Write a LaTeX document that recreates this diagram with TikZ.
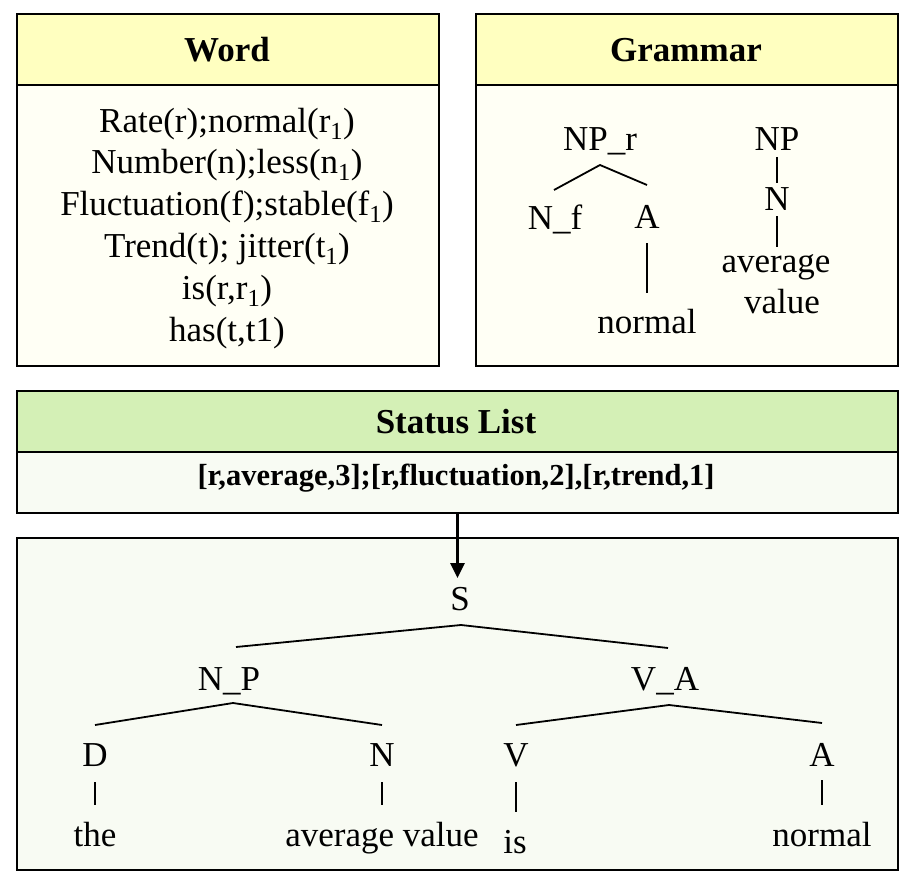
\documentclass[tikz,border=0pt]{standalone}
\usepackage{fontspec}
\setmainfont{Liberation Serif}
\usetikzlibrary{arrows.meta,calc}
\definecolor{hdryellow}{HTML}{FFFFC0}
\definecolor{bodyyellow}{HTML}{FFFFF5}
\definecolor{hdrgreen}{HTML}{D4F0B6}
\definecolor{bodygreen}{HTML}{F8FBF3}
\begin{document}
\begin{tikzpicture}[x=1pt,y=-1pt,
  box/.style={draw=black,line width=2pt,rectangle,inner sep=0pt,anchor=north west},
  txt/.style={anchor=base,inner sep=0pt,font=\fontsize{35}{42}\selectfont},
  btxt/.style={txt,font=\fontsize{35}{42}\selectfont\bfseries},
  stxt/.style={txt,font=\fontsize{30.5}{36}\selectfont\bfseries},
  treeline/.style={line width=1.8pt},
  barline/.style={line width=1.4pt},
  arrowline/.style={line width=3pt,-{Triangle[length=15pt,width=14pt]}}
]
\useasboundingbox (0,0) rectangle (913,880);
\fill[white] (0,0) rectangle (913,880);

% ---- Word box
\node[box,fill=hdryellow,minimum width=422pt,minimum height=71pt] (wordhead) at (16,13) {};
\node[box,fill=bodyyellow,minimum width=422pt,minimum height=281pt] (wordbody) at (16,84) {};
\node[btxt] (wordt) at (227,62) {Word};
\node[txt] (w1) at (227,132) {Rate(r);normal(r\textsubscript{1})};
\node[txt] (w2) at (227,173) {Number(n);less(n\textsubscript{1})};
\node[txt] (w3) at (227,215) {Fluctuation(f);stable(f\textsubscript{1})};
\node[txt] (w4) at (227,257) {Trend(t); jitter(t\textsubscript{1})};
\node[txt] (w5) at (227,299) {is(r,r\textsubscript{1})};
\node[txt] (w6) at (227,341) {has(t,t1)};

% ---- Grammar box
\node[box,fill=hdryellow,minimum width=422pt,minimum height=71pt] (gramhead) at (475,13) {};
\node[box,fill=bodyyellow,minimum width=422pt,minimum height=281pt] (grambody) at (475,84) {};
\node[btxt] (gramt) at (686,62) {Grammar};
\node[txt] (NPr) at (600,150) {NP\_r};
\node[txt] (Nf) at (555,229) {N\_f};
\node[txt] (gA) at (647,228) {A};
\node[txt] (gnormal) at (647,333) {normal};
\node[txt] (gNP) at (777,150) {NP};
\node[txt] (gN) at (777,210) {N};
\node[txt] (gavg) at (776,272) {average};
\node[txt] (gval) at (782,313) {value};
\draw[treeline] ($(Nf.base)+(-1,-39)$) -- ($(NPr.base)+(0,15)$) -- ($(gA.base)+(0,-43)$);
\draw[barline] ($(gA.base)+(0,15)$) -- ($(gA.base)+(0,65)$);
\draw[barline] ($(gNP.base)+(0,7)$) -- ($(gN.base)+(0,-27)$);
\draw[barline] ($(gN.base)+(0,6)$) -- ($(gN.base)+(0,37)$);

% ---- Status list
\node[box,fill=hdrgreen,minimum width=881pt,minimum height=61pt] (stathead) at (16,390) {};
\node[box,fill=bodygreen,minimum width=881pt,minimum height=61pt] (statbody) at (16,451) {};
\node[btxt] (statt) at (456,433) {Status List};
\node[stxt] (statl) at (456,485) {[r,average,3];[r,fluctuation,2],[r,trend,1]};

% ---- Parse tree
\node[box,fill=bodygreen,minimum width=881pt,minimum height=332pt] (treebox) at (16,537) {};
\node[txt] (S) at (460,610) {S};
\node[txt] (NP) at (229,690) {N\_P};
\node[txt] (VA) at (665,690) {V\_A};
\node[txt] (D) at (95,766) {D};
\node[txt] (N) at (382,766) {N};
\node[txt] (V) at (516,766) {V};
\node[txt] (A) at (822,766) {A};
\node[txt] (the) at (95,846) {the};
\node[txt] (avgval) at (382,846) {average value};
\node[txt] (is) at (515,853) {is};
\node[txt] (normal) at (822,846) {normal};

\coordinate (arrtip) at ($(statbody.south)+(0,64)$);
\draw[arrowline] (statbody.south) -- (arrtip);

\draw[treeline] ($(NP.base)+(7,-43)$) -- ($(S.base)+(1,15)$) -- ($(VA.base)+(3,-42)$);
\draw[treeline] ($(D.base)+(0,-41)$) -- ($(NP.base)+(4,13)$) -- ($(N.base)+(0,-41)$);
\draw[treeline] ($(V.base)+(0,-41)$) -- ($(VA.base)+(4,15)$) -- ($(A.base)+(0,-43)$);
\draw[barline] ($(D.base)+(0,16)$) -- ($(D.base)+(0,39)$);
\draw[barline] ($(N.base)+(0,16)$) -- ($(N.base)+(0,39)$);
\draw[barline] ($(V.base)+(0,16)$) -- ($(V.base)+(0,46)$);
\draw[barline] ($(A.base)+(0,14)$) -- ($(A.base)+(0,39)$);
\end{tikzpicture}
\end{document}
